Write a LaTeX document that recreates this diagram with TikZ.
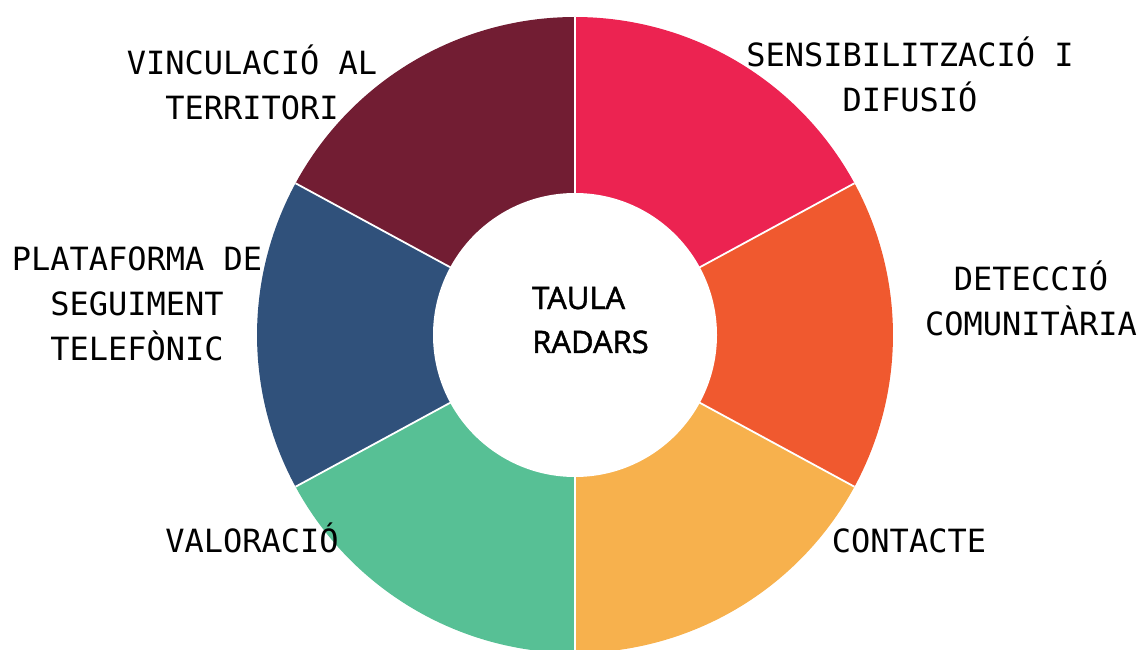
\documentclass[tikz,border=0pt]{standalone}
\usepackage{fontspec}
\setmonofont{DejaVu Sans Mono}
\newfontfamily\centerfont[FakeBold=1.6]{Open Sans}
\definecolor{cred}{HTML}{EC2351}
\definecolor{corange}{HTML}{F0592F}
\definecolor{cyellow}{HTML}{F7B14D}
\definecolor{cgreen}{HTML}{57C095}
\definecolor{cnavy}{HTML}{30517B}
\definecolor{cmaroon}{HTML}{721D33}
\tikzset{
  lab/.style={anchor=base, align=center, inner sep=0pt, font=\fontsize{32}{45}\selectfont\ttfamily, text=black},
  ctr/.style={anchor=base west, align=left, inner sep=0pt, font=\fontsize{31}{44}\selectfont\centerfont, text=black},
  sep/.style={draw=white, line width=1.8pt}
}
\begin{document}
\begin{tikzpicture}
\useasboundingbox (0pt,0pt) rectangle (1141pt,649pt);
\coordinate (c) at (575pt,314pt);
\def\R{318pt}
\def\r{142pt}
\fill[cred]    (c) -- ++(28.5:\R)  arc[start angle=28.5,  end angle=90,    radius=\R] -- cycle;
\fill[corange] (c) -- ++(-28.5:\R) arc[start angle=-28.5, end angle=28.5,  radius=\R] -- cycle;
\fill[cyellow] (c) -- ++(-90:\R)   arc[start angle=-90,   end angle=-28.5, radius=\R] -- cycle;
\fill[cgreen]  (c) -- ++(208.5:\R) arc[start angle=208.5, end angle=270,   radius=\R] -- cycle;
\fill[cnavy]   (c) -- ++(151.5:\R) arc[start angle=151.5, end angle=208.5, radius=\R] -- cycle;
\fill[cmaroon] (c) -- ++(90:\R)    arc[start angle=90,    end angle=151.5, radius=\R] -- cycle;
\foreach \a in {28.5,90,151.5,208.5,270,331.5} { \draw[sep] (c) -- ++(\a:\R); }
\fill[white] (c) circle[radius=\r];
\node[ctr] (center) at (532pt,296pt) {TAULA\\RADARS};
\node[lab] (vinc) at (252pt,529pt) {VINCULACIÓ AL\\TERRITORI};
\node[lab] (sens) at (910pt,537pt) {SENSIBILITZACIÓ I\\DIFUSIÓ};
\node[lab] (plat) at (137pt,289pt) {PLATAFORMA DE\\SEGUIMENT\\TELEFÒNIC};
\node[lab] (dete) at (1031pt,313pt) {DETECCIÓ\\COMUNITÀRIA};
\node[lab] (valo) at (252pt,97pt) {VALORACIÓ};
\node[lab] (cont) at (909pt,97pt) {CONTACTE};
\end{tikzpicture}
\end{document}
